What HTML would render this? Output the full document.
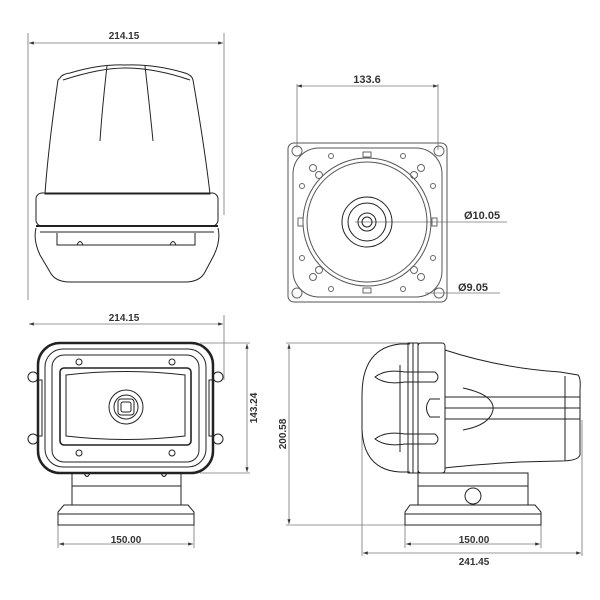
<!DOCTYPE html>
<html><head><style>body{margin:0;background:#fff}svg{display:block}text{font-family:"Liberation Sans",sans-serif;font-size:10px;fill:#333;font-weight:bold}</style></head>
<body>
<svg width="600" height="600" viewBox="0 0 600 600" xmlns="http://www.w3.org/2000/svg">
<defs><marker id="a" markerWidth="6" markerHeight="6" refX="6" refY="3" orient="auto-start-reverse"><path d="M0,1 L6,3 L0,5z" fill="#333"/></marker></defs>
<g fill="none" stroke="#777" stroke-width="0.8">
<line x1="28" y1="33" x2="28" y2="300"/><line x1="224" y1="33" x2="224" y2="215"/>
<line x1="29" y1="43" x2="223" y2="43" marker-start="url(#a)" marker-end="url(#a)"/>
<line x1="297" y1="84" x2="297" y2="148"/><line x1="438" y1="84" x2="438" y2="150"/>
<line x1="297" y1="86" x2="438" y2="86" marker-start="url(#a)" marker-end="url(#a)"/>
<line x1="355" y1="222" x2="507" y2="222"/>
<line x1="425" y1="293" x2="500" y2="293"/>
<line x1="29" y1="324" x2="223" y2="324" marker-start="url(#a)" marker-end="url(#a)"/>
<line x1="224" y1="315" x2="224" y2="380"/>
<line x1="200" y1="343" x2="250" y2="343"/><line x1="200" y1="473" x2="250" y2="473"/>
<line x1="247" y1="344" x2="247" y2="472" marker-start="url(#a)" marker-end="url(#a)"/>
<line x1="58" y1="525" x2="58" y2="548"/><line x1="194" y1="525" x2="194" y2="548"/>
<line x1="59" y1="544" x2="193" y2="544" marker-start="url(#a)" marker-end="url(#a)"/>
<line x1="286" y1="343" x2="410" y2="343"/><line x1="286" y1="525" x2="405" y2="525"/>
<line x1="289" y1="344" x2="289" y2="524" marker-start="url(#a)" marker-end="url(#a)"/>
<line x1="405" y1="525" x2="405" y2="548"/><line x1="541" y1="525" x2="541" y2="548"/>
<line x1="406" y1="544" x2="540" y2="544" marker-start="url(#a)" marker-end="url(#a)"/>
<line x1="362" y1="420" x2="362" y2="556"/><line x1="582" y1="420" x2="582" y2="556"/>
<line x1="363" y1="553" x2="581" y2="553" marker-start="url(#a)" marker-end="url(#a)"/>
</g>
<g fill="none" stroke="#222" stroke-width="1">
<path d="M60,78 Q62,74 70,73 Q100,64 125,65 Q155,64 185,73 Q192,75 193,80 Q205,150 210,194 L45,194 Q48,150 58,80z"/>
<path d="M63,80 Q100,68 125,68 Q155,68 190,80"/>
<path d="M107,66 Q102,110 100,141"/><path d="M145,66 Q150,110 153,141"/>
<rect x="36" y="193" width="182" height="33" rx="6"/>
<line x1="36" y1="226" x2="218" y2="226" stroke-width="2"/>
<path d="M36,228 Q33,240 40,255 L50,272 Q55,282 70,282 L185,282 Q200,282 205,272 L214,255 Q221,240 218,228"/>
<path d="M40,232 L214,232"/><path d="M57,233 L57,245 L195,245 L195,233"/>
<path d="M77,245 Q80,238 83,245"/><path d="M170,245 Q173,238 176,245"/>
<rect x="288" y="143" width="159" height="159" rx="6" stroke="#555"/>
<rect x="293" y="148" width="149" height="149" rx="26" stroke="#555"/>
<circle cx="367" cy="222" r="64" stroke="#555"/><circle cx="367" cy="222" r="60" stroke="#555"/>
<circle cx="367" cy="222" r="25"/><circle cx="367" cy="222" r="19"/><circle cx="367" cy="222" r="9"/><circle cx="367" cy="222" r="5"/>
<g stroke="#666"><circle cx="297" cy="151" r="5"/><circle cx="439" cy="151" r="5"/><circle cx="297" cy="293" r="5"/><circle cx="439" cy="293" r="5"/>
<circle cx="331" cy="156" r="2.5"/><circle cx="403" cy="156" r="2.5"/><circle cx="331" cy="289" r="2.5"/><circle cx="403" cy="289" r="2.5"/>
<circle cx="302" cy="186" r="2.5"/><circle cx="433" cy="186" r="2.5"/><circle cx="302" cy="258" r="2.5"/><circle cx="433" cy="258" r="2.5"/>
<circle cx="313" cy="168" r="3.5"/><circle cx="421" cy="168" r="3.5"/><circle cx="313" cy="277" r="3.5"/><circle cx="421" cy="277" r="3.5"/>
<circle cx="319" cy="175" r="3.5"/><circle cx="414" cy="175" r="3.5"/><circle cx="319" cy="270" r="3.5"/><circle cx="414" cy="270" r="3.5"/>
<rect x="363" y="152" width="8" height="5"/><rect x="363" y="288" width="8" height="5"/><rect x="298" y="218" width="5" height="8"/><rect x="432" y="218" width="5" height="8"/></g>
<rect x="38" y="343" width="175" height="130" rx="22" stroke-width="2.5"/>
<rect x="45" y="349" width="161" height="118" rx="18"/>
<rect x="52" y="355" width="147" height="107" rx="12"/>
<rect x="60" y="368" width="131" height="77" rx="4" stroke-width="1.6"/>
<path d="M66,375 Q125,368 185,375 L185,436 Q125,443 66,436z"/>
<circle cx="126" cy="407" r="17"/><circle cx="126" cy="407" r="12"/><rect x="118" y="399" width="16" height="16" rx="3"/><rect x="121" y="402" width="10" height="10" rx="2"/>
<circle cx="79" cy="362" r="3"/><circle cx="172" cy="362" r="3"/><circle cx="79" cy="453" r="3"/><circle cx="172" cy="453" r="3"/>
<circle cx="33" cy="377" r="5"/><circle cx="33" cy="439" r="5"/><circle cx="218" cy="377" r="5"/><circle cx="218" cy="439" r="5"/>
<path d="M38,380 L42,380 L42,436 L38,436"/><path d="M213,380 L209,380 L209,436 L213,436"/>
<rect x="72" y="473" width="109" height="32"/><line x1="72" y1="486" x2="181" y2="486"/>
<path d="M84,473 Q87,480 90,473"/><path d="M161,473 Q164,480 167,473"/>
<path d="M64,505 L188,505 L194,512 L194,525 L58,525 L58,512z"/><line x1="58" y1="514" x2="194" y2="514"/>
<path d="M410,344 L400,344 Q362,348 362,395 L362,430 Q364,470 400,472 L410,472"/>
<rect x="408" y="343" width="10" height="130"/><line x1="413" y1="343" x2="413" y2="473"/>
<rect x="418" y="343" width="27" height="130" rx="3"/>
<path d="M445,350 Q500,368 560,372 L578,375 Q581,378 580,390 L580,455 Q578,461 560,461 L520,462 Q470,465 445,468"/>
<path d="M565,376 L565,461"/><line x1="445" y1="397" x2="580" y2="397"/><line x1="445" y1="408" x2="580" y2="408"/><line x1="445" y1="419" x2="580" y2="419"/>
<path d="M440,399 L430,399 Q423,408 430,417 L440,417"/><path d="M463,388 Q495,395 493,410 Q490,425 463,430"/>
<path d="M375,377 Q385,369 405,372 L435,372 Q441,377 435,382 L405,382 Q385,385 375,377z"/>
<path d="M375,439 Q385,431 405,434 L435,434 Q441,439 435,444 L405,444 Q385,447 375,439z"/>
<path d="M400,365 L400,452"/>
<rect x="418" y="473" width="110" height="32"/><line x1="418" y1="486" x2="528" y2="486"/>
<circle cx="473" cy="496" r="8"/>
<path d="M410,505 L535,505 L541,512 L541,525 L405,525 L405,512z"/><line x1="405" y1="514" x2="541" y2="514"/>
</g>
<text x="124" y="39" text-anchor="middle">214.15</text>
<text x="367" y="83" text-anchor="middle" style="font-size:11px">133.6</text>
<text x="464" y="219" style="font-size:11px">Ø10.05</text>
<text x="458" y="291" style="font-size:11px">Ø9.05</text>
<text x="124" y="321" text-anchor="middle">214.15</text>
<text x="126" y="543" text-anchor="middle">150.00</text>
<text x="474" y="543" text-anchor="middle">150.00</text>
<text x="474" y="565" text-anchor="middle">241.45</text>
<text transform="translate(257,408) rotate(-90)" text-anchor="middle">143.24</text>
<text transform="translate(286,434) rotate(-90)" text-anchor="middle">200.58</text>
</svg>
</body></html>
